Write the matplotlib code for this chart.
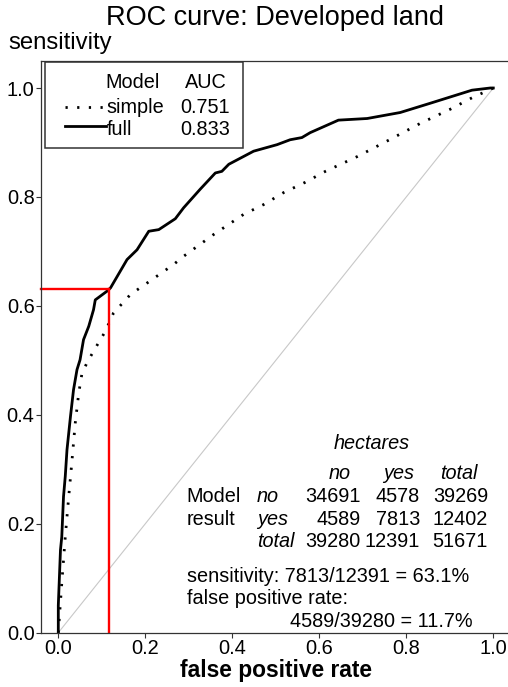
import matplotlib
matplotlib.use("Agg")
import matplotlib.pyplot as plt
from matplotlib.lines import Line2D
from matplotlib.patches import Rectangle

plt.rcParams["font.family"] = ["Liberation Sans", "DejaVu Sans"]

# ROC curves (false positive rate, sensitivity)
full_fpr = [0.0, 0.0, 0.005, 0.008, 0.012, 0.016, 0.02, 0.028, 0.035, 0.043, 0.05,
            0.058, 0.07, 0.081, 0.085, 0.112, 0.12, 0.158, 0.181, 0.208, 0.231,
            0.269, 0.288, 0.326, 0.361, 0.376, 0.392, 0.449, 0.503, 0.533, 0.56,
            0.579, 0.644, 0.71, 0.786, 0.855, 0.951, 0.993, 1.0]
full_tpr = [0.0, 0.05, 0.152, 0.176, 0.25, 0.287, 0.336, 0.397, 0.446, 0.483, 0.501,
            0.538, 0.5625, 0.593, 0.611, 0.627, 0.633, 0.685, 0.703, 0.737, 0.74,
            0.76, 0.78, 0.814, 0.844, 0.847, 0.86, 0.884, 0.896, 0.905, 0.909,
            0.918, 0.941, 0.944, 0.955, 0.972, 0.996, 1.0, 1.0]

simple_fpr = [0.0, 0.008, 0.016, 0.024, 0.031, 0.039, 0.047, 0.054, 0.066, 0.093,
              0.108, 0.127, 0.166, 0.215, 0.265, 0.288, 0.357, 0.426, 0.472, 0.518,
              0.568, 0.614, 0.687, 0.759, 0.832, 0.901, 0.951, 1.0]
simple_tpr = [0.0, 0.091, 0.176, 0.25, 0.312, 0.385, 0.44, 0.474, 0.496, 0.533,
              0.553, 0.587, 0.621, 0.648, 0.676, 0.691, 0.731, 0.768, 0.786, 0.808,
              0.827, 0.847, 0.874, 0.904, 0.935, 0.961, 0.982, 1.0]

models = ["simple", "full"]
auc = ["0.751", "0.833"]

# confusion table (hectares)
col_labels = ["no", "yes", "total"]
row_labels = ["no", "yes", "total"]
table = [[34691, 4578, 39269],
         [4589, 7813, 12402],
         [39280, 12391, 51671]]

true_pos = table[1][1]
false_pos = table[1][0]
sens = true_pos / table[2][1]
fpr_cut = false_pos / table[2][0]

W, H = 508, 687
fig = plt.figure(figsize=(W / 100, H / 100), dpi=100)


def fx(px):
    return px / W


def fy(py):
    return 1 - py / H


x0, x1 = -0.04, 1.04
y0, y1 = 0.0, 1.05
ax_left, ax_right = 40.9, 40.9 + (x1 - x0) * 435
ax_bottom, ax_top = 632.7, 632.7 - (y1 - y0) * 544.7
ax = fig.add_axes([fx(ax_left), fy(ax_bottom), (ax_right - ax_left) / W,
                   (ax_bottom - ax_top) / H])
ax.set_xlim(x0, x1)
ax.set_ylim(y0, y1)

ax.plot([0, 1], [0, 1], color="#c8c8c8", lw=0.8)
ax.plot(simple_fpr, simple_tpr, color="black", lw=2.0,
        linestyle=(0, (0.8, 3.4)), dash_capstyle="butt")
ax.plot(full_fpr, full_tpr, color="black", lw=2.0)

ax.plot([x0, fpr_cut], [sens, sens], color="red", lw=1.7, clip_on=False)
ax.plot([fpr_cut, fpr_cut], [0, sens], color="red", lw=1.7)

ticks = [0.0, 0.2, 0.4, 0.6, 0.8, 1.0]
ax.set_xticks(ticks)
ax.set_yticks(ticks)
ax.set_xticklabels([f"{t:.1f}" for t in ticks])
ax.set_yticklabels([f"{t:.1f}" for t in ticks])
ax.tick_params(labelsize=14.4, length=3.6, width=0.8, color="#333333", pad=1)
for s in ax.spines.values():
    s.set_color("#333333")
    s.set_linewidth(0.9)

# titles
fig.text(fx(274.5), fy(25), "ROC curve: Developed land", fontsize=19.5,
         ha="center", va="baseline")
fig.text(fx(8), fy(49), "sensitivity", fontsize=17.2, ha="left", va="baseline")
fig.text(fx(276), fy(677), "false positive rate", fontsize=16.4,
         fontweight="bold", ha="center", va="baseline")

# legend box
fig.patches.append(Rectangle((fx(45), fy(148)), (243 - 45) / W, (148 - 62) / H,
                             transform=fig.transFigure, fill=False,
                             edgecolor="#333333", lw=1.1))
fs = 14.3
fig.text(fx(105.7), fy(88.3), "Model", fontsize=fs, va="baseline")
fig.text(fx(185), fy(88.3), "AUC", fontsize=fs, va="baseline")
leg_y = [113.3, 135]
line_y = [106.7, 125.7]
styles = [dict(linestyle=(0, (0.8, 3.4)), dash_capstyle="butt"), dict(linestyle="-")]
for m, a, yb, yl, st in zip(models, auc, leg_y, line_y, styles):
    fig.text(fx(106.7), fy(yb), m, fontsize=fs, va="baseline")
    fig.text(fx(180), fy(yb), a, fontsize=fs, va="baseline")
    fig.lines.append(Line2D([fx(65), fx(106)], [fy(yl), fy(yl)],
                            transform=fig.transFigure, color="black", lw=2.0, **st))

# confusion table
fig.text(fx(371.7), fy(449.3), "hectares", fontsize=fs, style="italic",
         ha="center", va="baseline")
col_centers = [340, 399, 459]
col_rights = [360.7, 420, 488]
for c, xc in zip(col_labels, col_centers):
    fig.text(fx(xc), fy(479.3), c, fontsize=fs, style="italic",
             ha="center", va="baseline")
row_base = [501.7, 525, 547.3]
fig.text(fx(186.7), fy(row_base[0]), "Model", fontsize=fs, va="baseline")
fig.text(fx(186.7), fy(row_base[1]), "result", fontsize=fs, va="baseline")
for r, yb, vals in zip(row_labels, row_base, table):
    fig.text(fx(257), fy(yb), r, fontsize=fs, style="italic", va="baseline")
    for v, xr in zip(vals, col_rights):
        fig.text(fx(xr), fy(yb), str(v), fontsize=fs, ha="right", va="baseline")

fig.text(fx(186.7), fy(582.3),
         f"sensitivity: {true_pos}/{table[2][1]} = {sens * 100:.1f}%",
         fontsize=fs, va="baseline")
fig.text(fx(186.7), fy(604), "false positive rate:", fontsize=fs, va="baseline")
fig.text(fx(472.7), fy(626.7),
         f"{false_pos}/{table[2][0]} = {fpr_cut * 100:.1f}%",
         fontsize=fs, ha="right", va="baseline")

fig.savefig("out.png", dpi=100)
